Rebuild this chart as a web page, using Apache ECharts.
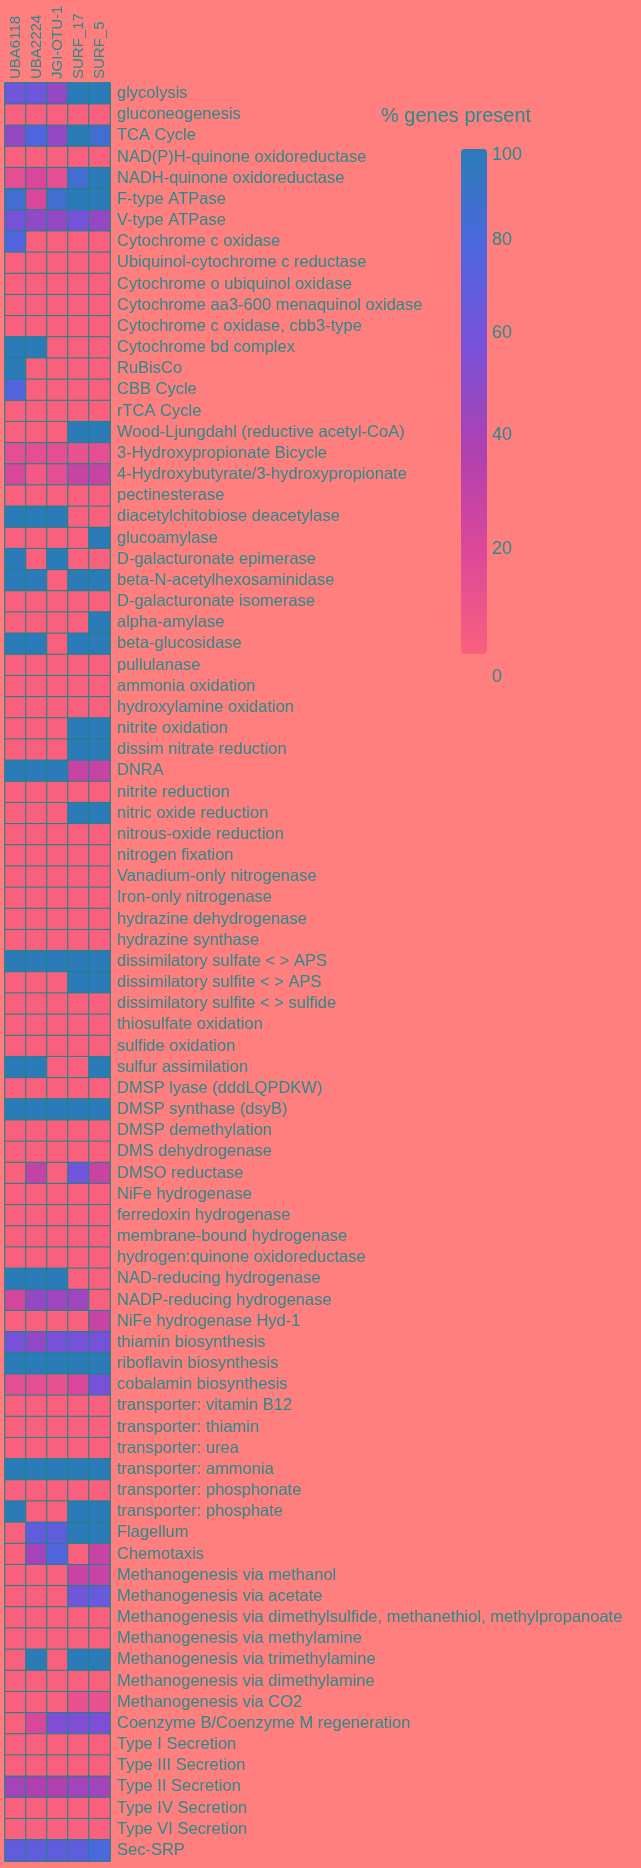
<!DOCTYPE html>
<html>
<head>
<meta charset="utf-8">
<script src="https://cdn.jsdelivr.net/npm/echarts@6/dist/echarts.min.js"></script>
<style>
  html, body { margin: 0; padding: 0; background: #ff7f7f; }
  #chart { width: 641px; height: 1868px; }
</style>
</head>
<body>
<div id="chart"></div>
<script>
const TEXT_COLOR = "#2b8a8a";
const GRID_COLOR = "#1f8383";
const BACKGROUND = "#ff7f7f";
const SCALE_COLORS = ["#f9607e", "#dd4898", "#b040b0", "#7a50d8", "#4f66e0", "#2b7bb8"];
// colour bar ticks in the original sit on a log-like scale, shifted by this offset
const COLORBAR_OFFSET = 150;

const samples = ["UBA6118", "UBA2224", "JGI-OTU-1", "SURF_17", "SURF_5"];

const pathways = [
  "glycolysis", "gluconeogenesis", "TCA Cycle", "NAD(P)H-quinone oxidoreductase",
  "NADH-quinone oxidoreductase", "F-type ATPase", "V-type ATPase", "Cytochrome c oxidase",
  "Ubiquinol-cytochrome c reductase", "Cytochrome o ubiquinol oxidase",
  "Cytochrome aa3-600 menaquinol oxidase", "Cytochrome c oxidase, cbb3-type",
  "Cytochrome bd complex", "RuBisCo", "CBB Cycle", "rTCA Cycle",
  "Wood-Ljungdahl (reductive acetyl-CoA)", "3-Hydroxypropionate Bicycle",
  "4-Hydroxybutyrate/3-hydroxypropionate", "pectinesterase", "diacetylchitobiose deacetylase",
  "glucoamylase", "D-galacturonate epimerase", "beta-N-acetylhexosaminidase",
  "D-galacturonate isomerase", "alpha-amylase", "beta-glucosidase", "pullulanase",
  "ammonia oxidation", "hydroxylamine oxidation", "nitrite oxidation", "dissim nitrate reduction",
  "DNRA", "nitrite reduction", "nitric oxide reduction", "nitrous-oxide reduction",
  "nitrogen fixation", "Vanadium-only nitrogenase", "Iron-only nitrogenase",
  "hydrazine dehydrogenase", "hydrazine synthase", "dissimilatory sulfate < > APS",
  "dissimilatory sulfite < > APS", "dissimilatory sulfite < > sulfide", "thiosulfate oxidation",
  "sulfide oxidation", "sulfur assimilation", "DMSP lyase (dddLQPDKW)", "DMSP synthase (dsyB)",
  "DMSP demethylation", "DMS dehydrogenase", "DMSO reductase", "NiFe hydrogenase",
  "ferredoxin hydrogenase", "membrane-bound hydrogenase", "hydrogen:quinone oxidoreductase",
  "NAD-reducing hydrogenase", "NADP-reducing hydrogenase", "NiFe hydrogenase Hyd-1",
  "thiamin biosynthesis", "riboflavin biosynthesis", "cobalamin biosynthesis",
  "transporter: vitamin B12", "transporter: thiamin", "transporter: urea",
  "transporter: ammonia", "transporter: phosphonate", "transporter: phosphate",
  "Flagellum", "Chemotaxis", "Methanogenesis via methanol", "Methanogenesis via acetate",
  "Methanogenesis via dimethylsulfide, methanethiol, methylpropanoate",
  "Methanogenesis via methylamine", "Methanogenesis via trimethylamine",
  "Methanogenesis via dimethylamine", "Methanogenesis via CO2",
  "Coenzyme B/Coenzyme M regeneration", "Type I Secretion", "Type III Secretion",
  "Type II Secretion", "Type IV Secretion", "Type VI Secretion", "Sec-SRP",
];

// % genes present, one array per genome, same order as pathways
const uba6118 = [
  65, 0, 50, 0, 15, 88, 62, 78, 0, 0,
  0, 0, 100, 100, 78, 0, 0, 15, 22, 0,
  100, 0, 100, 100, 0, 0, 100, 0, 0, 0,
  0, 0, 100, 0, 0, 0, 0, 0, 0, 0,
  0, 100, 0, 0, 0, 0, 100, 0, 100, 0,
  0, 0, 0, 0, 0, 0, 100, 25, 0, 62,
  100, 15, 0, 0, 0, 100, 0, 100, 0, 0,
  0, 0, 0, 0, 0, 0, 0, 0, 0, 0,
  45, 0, 0, 72,
];
const uba2224 = [
  65, 0, 80, 0, 22, 22, 52, 0, 0, 0,
  0, 0, 100, 0, 0, 0, 0, 15, 5, 0,
  100, 0, 0, 100, 0, 0, 100, 0, 0, 0,
  0, 0, 100, 0, 0, 0, 0, 0, 0, 0,
  0, 100, 0, 0, 0, 0, 100, 0, 100, 0,
  0, 32, 0, 0, 0, 0, 100, 50, 0, 52,
  100, 15, 0, 0, 0, 100, 0, 0, 72, 45,
  0, 0, 0, 0, 100, 0, 0, 22, 0, 0,
  40, 0, 0, 72,
];
const jgiOtu1 = [
  50, 0, 50, 0, 15, 88, 50, 0, 0, 0,
  0, 0, 0, 0, 0, 0, 0, 15, 15, 0,
  100, 0, 100, 0, 0, 0, 0, 0, 0, 0,
  0, 0, 100, 0, 0, 0, 0, 0, 0, 0,
  0, 100, 0, 0, 0, 0, 0, 0, 100, 0,
  0, 0, 0, 0, 0, 0, 100, 47, 0, 62,
  100, 12, 0, 0, 0, 100, 0, 0, 72, 78,
  0, 0, 0, 0, 0, 0, 0, 58, 0, 0,
  40, 0, 0, 72,
];
const surf17 = [
  100, 0, 100, 0, 88, 100, 63, 0, 0, 0,
  0, 0, 0, 0, 0, 0, 100, 12, 30, 0,
  0, 0, 0, 100, 0, 0, 100, 0, 0, 0,
  100, 100, 30, 0, 100, 0, 0, 0, 0, 0,
  0, 100, 100, 0, 0, 0, 0, 0, 100, 0,
  0, 65, 0, 0, 0, 0, 0, 47, 0, 62,
  100, 22, 0, 0, 0, 100, 0, 100, 100, 0,
  30, 65, 0, 0, 100, 0, 12, 58, 0, 0,
  45, 0, 0, 72,
];
const surf5 = [
  100, 0, 88, 0, 100, 100, 50, 0, 0, 0,
  0, 0, 0, 0, 0, 0, 100, 15, 30, 0,
  0, 100, 0, 100, 0, 100, 100, 0, 0, 0,
  100, 100, 30, 0, 100, 0, 0, 0, 0, 0,
  0, 100, 100, 0, 0, 0, 100, 0, 100, 0,
  0, 30, 0, 0, 0, 0, 0, 0, 30, 62,
  100, 62, 0, 0, 0, 100, 0, 100, 100, 30,
  30, 70, 0, 0, 100, 0, 12, 58, 0, 0,
  45, 0, 0, 82,
];

const colorbarTicks = [0, 20, 40, 60, 80, 100];

const columns = [uba6118, uba2224, jgiOtu1, surf17, surf5];
const heatmapData = [];
columns.forEach((values, x) => {
  values.forEach((value, y) => {
    heatmapData.push([x, y, value]);
  });
});

const chart = echarts.init(document.getElementById("chart"));

const option = {
  backgroundColor: BACKGROUND,
  animation: false,
  textStyle: {
    fontFamily: "'Liberation Sans', Arial, sans-serif",
    color: TEXT_COLOR,
  },
  title: {
    text: "% genes present",
    left: 381,
    top: 106,
    padding: 0,
    textStyle: {
      fontSize: 20,
      fontWeight: "normal",
      color: TEXT_COLOR,
    },
  },
  grid: [
    {
      left: 5,
      top: 83,
      width: 105,
      height: 1778,
      show: true,
      borderColor: GRID_COLOR,
      borderWidth: 1,
      backgroundColor: "transparent",
    },
    {
      left: 487,
      top: 155,
      width: 1,
      height: 522,
    },
  ],
  xAxis: [
    {
      type: "category",
      gridIndex: 0,
      data: samples,
      position: "top",
      axisLine: { show: false },
      axisTick: { show: false },
      splitLine: { show: false },
      axisLabel: {
        interval: 0,
        rotate: -90,
        margin: 4,
        padding: [7, 0, 0, 0],
        fontSize: 15,
        color: TEXT_COLOR,
      },
    },
    {
      type: "value",
      gridIndex: 1,
      show: false,
    },
  ],
  yAxis: [
    {
      type: "category",
      gridIndex: 0,
      data: pathways,
      inverse: true,
      position: "right",
      axisLine: { show: false },
      axisTick: { show: false },
      splitLine: { show: false },
      axisLabel: {
        interval: 0,
        margin: 7,
        fontSize: 16.5,
        color: TEXT_COLOR,
      },
    },
    {
      type: "log",
      gridIndex: 1,
      logBase: 10,
      min: COLORBAR_OFFSET,
      max: 100 + COLORBAR_OFFSET,
      position: "right",
      axisLine: { show: false },
      axisTick: { show: false },
      splitLine: { show: false },
      axisLabel: {
        margin: 4,
        fontSize: 18,
        color: TEXT_COLOR,
        customValues: colorbarTicks.map((v) => v + COLORBAR_OFFSET),
        formatter: (value) => String(Math.round(value - COLORBAR_OFFSET)),
      },
    },
  ],
  visualMap: {
    type: "continuous",
    min: 0,
    max: 100,
    seriesIndex: 0,
    calculable: false,
    hoverLink: false,
    left: 461,
    top: 149,
    padding: 0,
    itemWidth: 26,
    itemHeight: 505,
    inRange: {
      color: SCALE_COLORS,
    },
  },
  series: [
    {
      type: "heatmap",
      xAxisIndex: 0,
      yAxisIndex: 0,
      data: heatmapData,
      itemStyle: {
        borderColor: GRID_COLOR,
        borderWidth: 1,
      },
      emphasis: { disabled: true },
    },
  ],
};

chart.setOption(option);
</script>
</body>
</html>
